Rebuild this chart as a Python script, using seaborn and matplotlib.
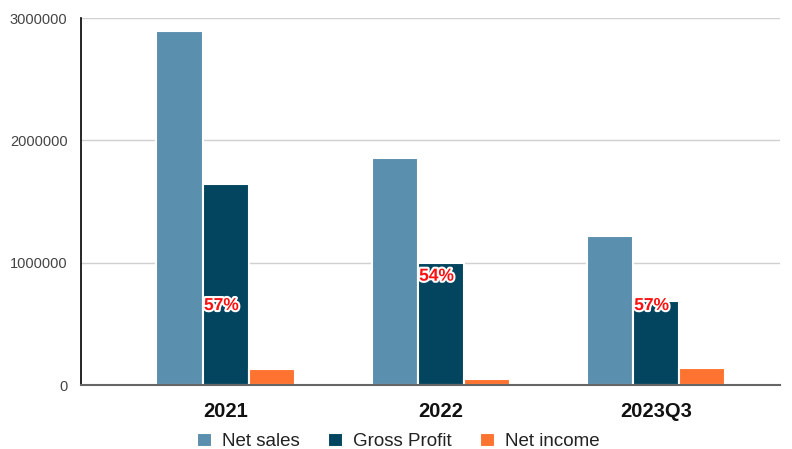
import pandas as pd
import seaborn as sns
import matplotlib.pyplot as plt
import matplotlib.patheffects as pe
from matplotlib.ticker import FuncFormatter

# values
periods = ["2021", "2022", "2023Q3"]
net_sales = [2895000, 1856000, 1218000]
gross_profit = [1645000, 998000, 687000]
net_income = [130000, 50000, 140000]
margin_labels = ["57%", "54%", "57%"]

series = ["Net sales", "Gross Profit", "Net income"]
colors = ["#5a8fad", "#03445f", "#ff7331"]

df = pd.DataFrame({
    "period": periods * 3,
    "series": [s for s in series for _ in periods],
    "value": net_sales + gross_profit + net_income,
})

sns.set_theme(style="white")
plt.rcParams["font.family"] = ["Liberation Sans", "DejaVu Sans"]

fig = plt.figure(figsize=(7.92, 4.49), dpi=100)
ax = fig.add_axes([0.102, 0.1425, 0.883, 0.817])

sns.barplot(data=df, x="period", y="value", hue="series", order=periods,
            hue_order=series, palette=colors, width=0.645, saturation=1,
            edgecolor="white", linewidth=1.5, ax=ax)

ax.set_ylim(0, 3000000)
ax.set_xlim(-0.674, 2.577)
ax.set_yticks([0, 1000000, 2000000, 3000000])
ax.yaxis.set_major_formatter(FuncFormatter(lambda v, p: f"{int(v)}"))
ax.grid(axis="y", color="#d0d0d0", linewidth=1)
ax.set_axisbelow(True)
ax.set_xlabel("")
ax.set_ylabel("")

ax.tick_params(axis="y", direction="inout", length=9, width=1.2,
               color="black", labelsize=10.5, labelcolor="#444444", pad=5)
ax.tick_params(axis="x", length=0, labelsize=14.5, pad=12)
for lbl in ax.get_xticklabels():
    lbl.set_fontweight("bold")
    lbl.set_color("#111111")

for side in ["top", "right"]:
    ax.spines[side].set_visible(False)
ax.spines["left"].set_color("black")
ax.spines["left"].set_linewidth(1.2)
ax.spines["bottom"].set_color("#666666")
ax.spines["bottom"].set_linewidth(1.5)

# margin labels on the gross profit bars
label_heights = [650000, 890000, 650000]
for i, txt in enumerate(margin_labels):
    ax.text(i - 0.02, label_heights[i], txt, ha="center", va="center",
            color="#ff1010", fontsize=12.5, fontweight="bold",
            path_effects=[pe.withStroke(linewidth=3, foreground="white")])

handles, labels = ax.get_legend_handles_labels()
ax.get_legend().remove()
leg = fig.legend(handles, labels, loc="center", bbox_to_anchor=(0.503, 0.017),
                 ncol=3, frameon=False, fontsize=13.5, handlelength=0.8,
                 handleheight=0.8, handletextpad=0.55, columnspacing=1.5)
for t in leg.get_texts():
    t.set_color("#222222")

fig.savefig("out.png", dpi=100)
